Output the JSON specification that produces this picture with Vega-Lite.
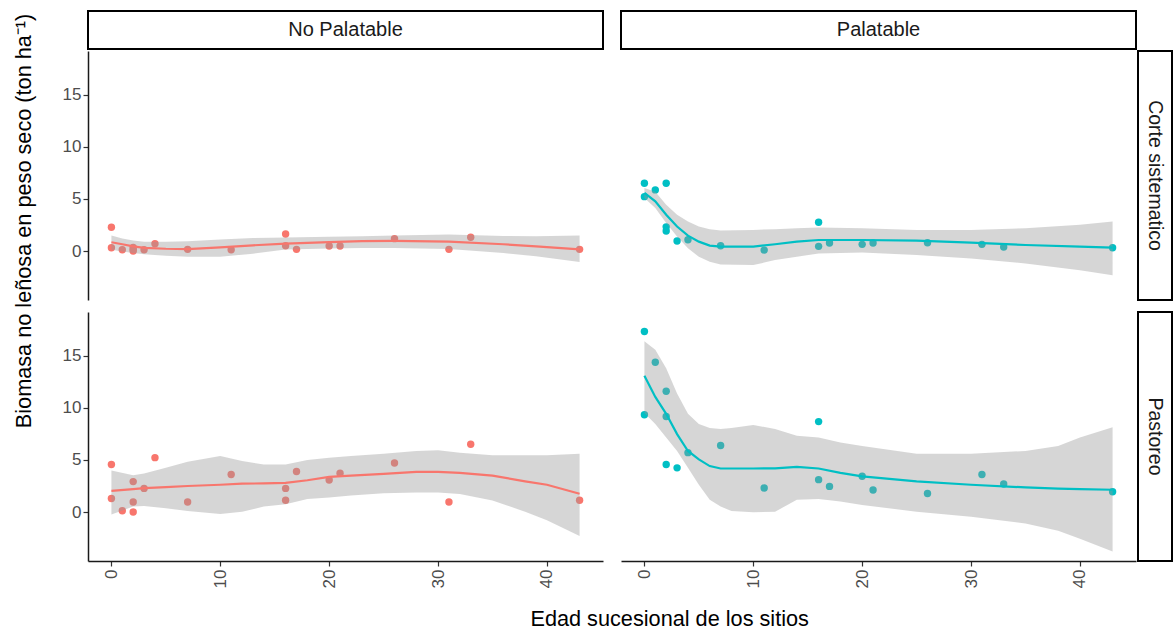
{
  "$schema": "https://vega.github.io/schema/vega-lite/v6.json",
  "background": "white",
  "padding": {"left": 14, "top": 10, "right": 0, "bottom": 0},
  "config": {
    "view": {"stroke": null},
    "font": "Liberation Sans",
    "axis": {"labelFont": "Liberation Sans", "labelFontSize": 17, "labelColor": "#4D4D4D", "tickColor": "#333333", "tickWidth": 1.2, "domainColor": "#1A1A1A", "domainWidth": 1.5, "grid": false},
    "text": {"font": "Liberation Sans"}
  },
  "datasets": {
    "pts": [
      {"tipo": "No Palatable", "manejo": "Corte sistematico", "edad": 0, "biomasa": 2.28},
      {"tipo": "No Palatable", "manejo": "Corte sistematico", "edad": 0, "biomasa": 0.32},
      {"tipo": "No Palatable", "manejo": "Corte sistematico", "edad": 1, "biomasa": 0.12},
      {"tipo": "No Palatable", "manejo": "Corte sistematico", "edad": 2, "biomasa": 0.0},
      {"tipo": "No Palatable", "manejo": "Corte sistematico", "edad": 2, "biomasa": 0.15},
      {"tipo": "No Palatable", "manejo": "Corte sistematico", "edad": 2, "biomasa": 0.35},
      {"tipo": "No Palatable", "manejo": "Corte sistematico", "edad": 3, "biomasa": 0.12},
      {"tipo": "No Palatable", "manejo": "Corte sistematico", "edad": 4, "biomasa": 0.7},
      {"tipo": "No Palatable", "manejo": "Corte sistematico", "edad": 7, "biomasa": 0.16},
      {"tipo": "No Palatable", "manejo": "Corte sistematico", "edad": 11, "biomasa": 0.13},
      {"tipo": "No Palatable", "manejo": "Corte sistematico", "edad": 16, "biomasa": 1.64},
      {"tipo": "No Palatable", "manejo": "Corte sistematico", "edad": 16, "biomasa": 0.51},
      {"tipo": "No Palatable", "manejo": "Corte sistematico", "edad": 17, "biomasa": 0.16},
      {"tipo": "No Palatable", "manejo": "Corte sistematico", "edad": 20, "biomasa": 0.48},
      {"tipo": "No Palatable", "manejo": "Corte sistematico", "edad": 21, "biomasa": 0.48},
      {"tipo": "No Palatable", "manejo": "Corte sistematico", "edad": 26, "biomasa": 1.19},
      {"tipo": "No Palatable", "manejo": "Corte sistematico", "edad": 31, "biomasa": 0.16},
      {"tipo": "No Palatable", "manejo": "Corte sistematico", "edad": 33, "biomasa": 1.32},
      {"tipo": "No Palatable", "manejo": "Corte sistematico", "edad": 43, "biomasa": 0.16},
      {"tipo": "No Palatable", "manejo": "Pastoreo", "edad": 0, "biomasa": 4.57},
      {"tipo": "No Palatable", "manejo": "Pastoreo", "edad": 0, "biomasa": 1.3},
      {"tipo": "No Palatable", "manejo": "Pastoreo", "edad": 1, "biomasa": 0.13},
      {"tipo": "No Palatable", "manejo": "Pastoreo", "edad": 2, "biomasa": 2.92},
      {"tipo": "No Palatable", "manejo": "Pastoreo", "edad": 2, "biomasa": 0.97},
      {"tipo": "No Palatable", "manejo": "Pastoreo", "edad": 2, "biomasa": 0.0},
      {"tipo": "No Palatable", "manejo": "Pastoreo", "edad": 3, "biomasa": 2.27},
      {"tipo": "No Palatable", "manejo": "Pastoreo", "edad": 4, "biomasa": 5.22},
      {"tipo": "No Palatable", "manejo": "Pastoreo", "edad": 7, "biomasa": 0.97},
      {"tipo": "No Palatable", "manejo": "Pastoreo", "edad": 11, "biomasa": 3.6},
      {"tipo": "No Palatable", "manejo": "Pastoreo", "edad": 16, "biomasa": 2.27},
      {"tipo": "No Palatable", "manejo": "Pastoreo", "edad": 16, "biomasa": 1.13},
      {"tipo": "No Palatable", "manejo": "Pastoreo", "edad": 17, "biomasa": 3.89},
      {"tipo": "No Palatable", "manejo": "Pastoreo", "edad": 20, "biomasa": 3.08},
      {"tipo": "No Palatable", "manejo": "Pastoreo", "edad": 21, "biomasa": 3.72},
      {"tipo": "No Palatable", "manejo": "Pastoreo", "edad": 26, "biomasa": 4.7},
      {"tipo": "No Palatable", "manejo": "Pastoreo", "edad": 31, "biomasa": 0.97},
      {"tipo": "No Palatable", "manejo": "Pastoreo", "edad": 33, "biomasa": 6.51},
      {"tipo": "No Palatable", "manejo": "Pastoreo", "edad": 43, "biomasa": 1.13},
      {"tipo": "Palatable", "manejo": "Corte sistematico", "edad": 0, "biomasa": 6.51},
      {"tipo": "Palatable", "manejo": "Corte sistematico", "edad": 0, "biomasa": 5.22},
      {"tipo": "Palatable", "manejo": "Corte sistematico", "edad": 1, "biomasa": 5.87},
      {"tipo": "Palatable", "manejo": "Corte sistematico", "edad": 2, "biomasa": 6.51},
      {"tipo": "Palatable", "manejo": "Corte sistematico", "edad": 2, "biomasa": 2.32},
      {"tipo": "Palatable", "manejo": "Corte sistematico", "edad": 2, "biomasa": 1.93},
      {"tipo": "Palatable", "manejo": "Corte sistematico", "edad": 3, "biomasa": 0.97},
      {"tipo": "Palatable", "manejo": "Corte sistematico", "edad": 4, "biomasa": 1.09},
      {"tipo": "Palatable", "manejo": "Corte sistematico", "edad": 7, "biomasa": 0.51},
      {"tipo": "Palatable", "manejo": "Corte sistematico", "edad": 11, "biomasa": 0.09},
      {"tipo": "Palatable", "manejo": "Corte sistematico", "edad": 16, "biomasa": 2.77},
      {"tipo": "Palatable", "manejo": "Corte sistematico", "edad": 16, "biomasa": 0.45},
      {"tipo": "Palatable", "manejo": "Corte sistematico", "edad": 17, "biomasa": 0.77},
      {"tipo": "Palatable", "manejo": "Corte sistematico", "edad": 20, "biomasa": 0.64},
      {"tipo": "Palatable", "manejo": "Corte sistematico", "edad": 21, "biomasa": 0.77},
      {"tipo": "Palatable", "manejo": "Corte sistematico", "edad": 26, "biomasa": 0.8},
      {"tipo": "Palatable", "manejo": "Corte sistematico", "edad": 31, "biomasa": 0.64},
      {"tipo": "Palatable", "manejo": "Corte sistematico", "edad": 33, "biomasa": 0.38},
      {"tipo": "Palatable", "manejo": "Corte sistematico", "edad": 43, "biomasa": 0.32},
      {"tipo": "Palatable", "manejo": "Pastoreo", "edad": 0, "biomasa": 17.33},
      {"tipo": "Palatable", "manejo": "Pastoreo", "edad": 0, "biomasa": 9.33},
      {"tipo": "Palatable", "manejo": "Pastoreo", "edad": 1, "biomasa": 14.38},
      {"tipo": "Palatable", "manejo": "Pastoreo", "edad": 2, "biomasa": 11.6},
      {"tipo": "Palatable", "manejo": "Pastoreo", "edad": 2, "biomasa": 9.17},
      {"tipo": "Palatable", "manejo": "Pastoreo", "edad": 2, "biomasa": 4.57},
      {"tipo": "Palatable", "manejo": "Pastoreo", "edad": 3, "biomasa": 4.24},
      {"tipo": "Palatable", "manejo": "Pastoreo", "edad": 4, "biomasa": 5.7},
      {"tipo": "Palatable", "manejo": "Pastoreo", "edad": 7, "biomasa": 6.38},
      {"tipo": "Palatable", "manejo": "Pastoreo", "edad": 11, "biomasa": 2.3},
      {"tipo": "Palatable", "manejo": "Pastoreo", "edad": 16, "biomasa": 8.68},
      {"tipo": "Palatable", "manejo": "Pastoreo", "edad": 16, "biomasa": 3.11},
      {"tipo": "Palatable", "manejo": "Pastoreo", "edad": 17, "biomasa": 2.46},
      {"tipo": "Palatable", "manejo": "Pastoreo", "edad": 20, "biomasa": 3.43},
      {"tipo": "Palatable", "manejo": "Pastoreo", "edad": 21, "biomasa": 2.11},
      {"tipo": "Palatable", "manejo": "Pastoreo", "edad": 26, "biomasa": 1.78},
      {"tipo": "Palatable", "manejo": "Pastoreo", "edad": 31, "biomasa": 3.6},
      {"tipo": "Palatable", "manejo": "Pastoreo", "edad": 33, "biomasa": 2.69},
      {"tipo": "Palatable", "manejo": "Pastoreo", "edad": 43, "biomasa": 1.94}
    ],
    "fit": [
      {"tipo": "No Palatable", "manejo": "Corte sistematico", "edad": 0, "fit": 0.84, "lo": 0.12, "hi": 1.5},
      {"tipo": "No Palatable", "manejo": "Corte sistematico", "edad": 1, "fit": 0.65, "lo": -0.05, "hi": 1.2},
      {"tipo": "No Palatable", "manejo": "Corte sistematico", "edad": 2, "fit": 0.45, "lo": -0.2, "hi": 1.0},
      {"tipo": "No Palatable", "manejo": "Corte sistematico", "edad": 3, "fit": 0.3, "lo": -0.3, "hi": 0.9},
      {"tipo": "No Palatable", "manejo": "Corte sistematico", "edad": 5, "fit": 0.22, "lo": -0.45, "hi": 0.9},
      {"tipo": "No Palatable", "manejo": "Corte sistematico", "edad": 7, "fit": 0.19, "lo": -0.55, "hi": 0.95},
      {"tipo": "No Palatable", "manejo": "Corte sistematico", "edad": 10, "fit": 0.35, "lo": -0.55, "hi": 1.1},
      {"tipo": "No Palatable", "manejo": "Corte sistematico", "edad": 13, "fit": 0.55, "lo": -0.25, "hi": 1.25},
      {"tipo": "No Palatable", "manejo": "Corte sistematico", "edad": 16, "fit": 0.72, "lo": 0.15, "hi": 1.3},
      {"tipo": "No Palatable", "manejo": "Corte sistematico", "edad": 20, "fit": 0.85, "lo": 0.25, "hi": 1.38},
      {"tipo": "No Palatable", "manejo": "Corte sistematico", "edad": 23, "fit": 0.95, "lo": 0.28, "hi": 1.42},
      {"tipo": "No Palatable", "manejo": "Corte sistematico", "edad": 26, "fit": 0.97, "lo": 0.28, "hi": 1.5},
      {"tipo": "No Palatable", "manejo": "Corte sistematico", "edad": 31, "fit": 0.9, "lo": 0.2, "hi": 1.58},
      {"tipo": "No Palatable", "manejo": "Corte sistematico", "edad": 36, "fit": 0.65, "lo": -0.2, "hi": 1.45},
      {"tipo": "No Palatable", "manejo": "Corte sistematico", "edad": 39, "fit": 0.45, "lo": -0.5, "hi": 1.42},
      {"tipo": "No Palatable", "manejo": "Corte sistematico", "edad": 43, "fit": 0.16, "lo": -1.05, "hi": 1.48},
      {"tipo": "No Palatable", "manejo": "Pastoreo", "edad": 0, "fit": 2.04, "lo": -0.23, "hi": 3.98},
      {"tipo": "No Palatable", "manejo": "Pastoreo", "edad": 2, "fit": 2.2, "lo": 0.52, "hi": 3.53},
      {"tipo": "No Palatable", "manejo": "Pastoreo", "edad": 3, "fit": 2.3, "lo": 0.58, "hi": 3.69},
      {"tipo": "No Palatable", "manejo": "Pastoreo", "edad": 5, "fit": 2.4, "lo": 0.36, "hi": 4.24},
      {"tipo": "No Palatable", "manejo": "Pastoreo", "edad": 7, "fit": 2.5, "lo": 0.1, "hi": 4.83},
      {"tipo": "No Palatable", "manejo": "Pastoreo", "edad": 10, "fit": 2.62, "lo": -0.19, "hi": 5.38},
      {"tipo": "No Palatable", "manejo": "Pastoreo", "edad": 12, "fit": 2.72, "lo": 0.03, "hi": 4.89},
      {"tipo": "No Palatable", "manejo": "Pastoreo", "edad": 14, "fit": 2.75, "lo": 0.52, "hi": 4.57},
      {"tipo": "No Palatable", "manejo": "Pastoreo", "edad": 16, "fit": 2.79, "lo": 0.75, "hi": 4.57},
      {"tipo": "No Palatable", "manejo": "Pastoreo", "edad": 18, "fit": 3.05, "lo": 1.26, "hi": 4.99},
      {"tipo": "No Palatable", "manejo": "Pastoreo", "edad": 20, "fit": 3.37, "lo": 1.39, "hi": 5.22},
      {"tipo": "No Palatable", "manejo": "Pastoreo", "edad": 22, "fit": 3.5, "lo": 1.59, "hi": 5.38},
      {"tipo": "No Palatable", "manejo": "Pastoreo", "edad": 25, "fit": 3.66, "lo": 1.81, "hi": 5.6},
      {"tipo": "No Palatable", "manejo": "Pastoreo", "edad": 28, "fit": 3.85, "lo": 1.88, "hi": 5.86},
      {"tipo": "No Palatable", "manejo": "Pastoreo", "edad": 30, "fit": 3.85, "lo": 1.88, "hi": 5.93},
      {"tipo": "No Palatable", "manejo": "Pastoreo", "edad": 32, "fit": 3.76, "lo": 1.72, "hi": 5.7},
      {"tipo": "No Palatable", "manejo": "Pastoreo", "edad": 35, "fit": 3.5, "lo": 1.1, "hi": 5.44},
      {"tipo": "No Palatable", "manejo": "Pastoreo", "edad": 38, "fit": 2.95, "lo": 0.03, "hi": 5.44},
      {"tipo": "No Palatable", "manejo": "Pastoreo", "edad": 40, "fit": 2.62, "lo": -0.78, "hi": 5.44},
      {"tipo": "No Palatable", "manejo": "Pastoreo", "edad": 43, "fit": 1.75, "lo": -2.3, "hi": 5.6},
      {"tipo": "Palatable", "manejo": "Corte sistematico", "edad": 0, "fit": 5.58, "lo": 5.1, "hi": 6.06},
      {"tipo": "Palatable", "manejo": "Corte sistematico", "edad": 1, "fit": 4.77, "lo": 4.13, "hi": 5.68},
      {"tipo": "Palatable", "manejo": "Corte sistematico", "edad": 2, "fit": 3.48, "lo": 2.68, "hi": 4.45},
      {"tipo": "Palatable", "manejo": "Corte sistematico", "edad": 3, "fit": 2.35, "lo": 1.39, "hi": 3.48},
      {"tipo": "Palatable", "manejo": "Corte sistematico", "edad": 4, "fit": 1.48, "lo": 0.26, "hi": 2.84},
      {"tipo": "Palatable", "manejo": "Corte sistematico", "edad": 5, "fit": 0.9, "lo": -0.55, "hi": 2.35},
      {"tipo": "Palatable", "manejo": "Corte sistematico", "edad": 6, "fit": 0.52, "lo": -1.03, "hi": 2.1},
      {"tipo": "Palatable", "manejo": "Corte sistematico", "edad": 7, "fit": 0.42, "lo": -1.29, "hi": 1.97},
      {"tipo": "Palatable", "manejo": "Corte sistematico", "edad": 10, "fit": 0.42, "lo": -1.35, "hi": 2.03},
      {"tipo": "Palatable", "manejo": "Corte sistematico", "edad": 12, "fit": 0.65, "lo": -0.87, "hi": 2.1},
      {"tipo": "Palatable", "manejo": "Corte sistematico", "edad": 14, "fit": 0.9, "lo": -0.55, "hi": 2.19},
      {"tipo": "Palatable", "manejo": "Corte sistematico", "edad": 16, "fit": 1.06, "lo": -0.23, "hi": 2.26},
      {"tipo": "Palatable", "manejo": "Corte sistematico", "edad": 20, "fit": 1.06, "lo": -0.13, "hi": 2.19},
      {"tipo": "Palatable", "manejo": "Corte sistematico", "edad": 25, "fit": 1.0, "lo": -0.39, "hi": 2.03},
      {"tipo": "Palatable", "manejo": "Corte sistematico", "edad": 30, "fit": 0.81, "lo": -0.71, "hi": 2.03},
      {"tipo": "Palatable", "manejo": "Corte sistematico", "edad": 35, "fit": 0.58, "lo": -1.19, "hi": 2.19},
      {"tipo": "Palatable", "manejo": "Corte sistematico", "edad": 40, "fit": 0.42, "lo": -1.84, "hi": 2.52},
      {"tipo": "Palatable", "manejo": "Corte sistematico", "edad": 43, "fit": 0.32, "lo": -2.32, "hi": 2.84},
      {"tipo": "Palatable", "manejo": "Pastoreo", "edad": 0, "fit": 13.09, "lo": 9.5, "hi": 16.39},
      {"tipo": "Palatable", "manejo": "Pastoreo", "edad": 1, "fit": 11.05, "lo": 8.45, "hi": 15.58},
      {"tipo": "Palatable", "manejo": "Pastoreo", "edad": 2, "fit": 9.43, "lo": 7.16, "hi": 13.8},
      {"tipo": "Palatable", "manejo": "Pastoreo", "edad": 3, "fit": 7.48, "lo": 5.86, "hi": 11.37},
      {"tipo": "Palatable", "manejo": "Pastoreo", "edad": 4, "fit": 5.86, "lo": 4.24, "hi": 9.43},
      {"tipo": "Palatable", "manejo": "Pastoreo", "edad": 5, "fit": 5.05, "lo": 2.62, "hi": 8.45},
      {"tipo": "Palatable", "manejo": "Pastoreo", "edad": 6, "fit": 4.41, "lo": 1.17, "hi": 8.07},
      {"tipo": "Palatable", "manejo": "Pastoreo", "edad": 7, "fit": 4.18, "lo": 0.52, "hi": 7.97},
      {"tipo": "Palatable", "manejo": "Pastoreo", "edad": 8, "fit": 4.18, "lo": 0.1, "hi": 8.07},
      {"tipo": "Palatable", "manejo": "Pastoreo", "edad": 10, "fit": 4.18, "lo": -0.03, "hi": 8.36},
      {"tipo": "Palatable", "manejo": "Pastoreo", "edad": 12, "fit": 4.2, "lo": 0.03, "hi": 7.97},
      {"tipo": "Palatable", "manejo": "Pastoreo", "edad": 14, "fit": 4.34, "lo": 1.17, "hi": 7.32},
      {"tipo": "Palatable", "manejo": "Pastoreo", "edad": 16, "fit": 4.18, "lo": 1.26, "hi": 7.16},
      {"tipo": "Palatable", "manejo": "Pastoreo", "edad": 18, "fit": 3.76, "lo": 1.0, "hi": 6.67},
      {"tipo": "Palatable", "manejo": "Pastoreo", "edad": 20, "fit": 3.43, "lo": 0.68, "hi": 6.35},
      {"tipo": "Palatable", "manejo": "Pastoreo", "edad": 25, "fit": 2.95, "lo": 0.03, "hi": 5.6},
      {"tipo": "Palatable", "manejo": "Pastoreo", "edad": 30, "fit": 2.62, "lo": -0.45, "hi": 5.6},
      {"tipo": "Palatable", "manejo": "Pastoreo", "edad": 35, "fit": 2.36, "lo": -1.1, "hi": 5.86},
      {"tipo": "Palatable", "manejo": "Pastoreo", "edad": 38, "fit": 2.25, "lo": -1.8, "hi": 6.35},
      {"tipo": "Palatable", "manejo": "Pastoreo", "edad": 40, "fit": 2.2, "lo": -2.56, "hi": 7.16},
      {"tipo": "Palatable", "manejo": "Pastoreo", "edad": 43, "fit": 2.14, "lo": -3.79, "hi": 8.13}
    ]
  },
  "title": {"text": "Edad sucesional de los sitios", "orient": "bottom", "anchor": "middle", "font": "Liberation Sans", "fontSize": 21.7, "fontWeight": "normal", "color": "#000000", "offset": 21, "dx": 76},
  "vconcat": [
    {
      "title": {"text": "Biomasa no leñosa en peso seco (ton ha⁻¹)", "orient": "left", "anchor": "middle", "font": "Liberation Sans", "fontSize": 21.7, "fontWeight": "normal", "color": "#000000", "offset": 26, "dx": 78},
      "columns": 3,
      "align": "each",
      "spacing": {"row": 0, "column": 0},
      "concat": [
        {"width": 515, "height": 38, "data": {"values": [{"lab": "No Palatable"}]}, "mark": {"type": "text", "fontSize": 20, "color": "#1A1A1A"}, "encoding": {"text": {"field": "lab"}}, "view": {"stroke": "#000000", "strokeWidth": 2, "fill": "white"}},
        {"width": 515, "height": 38, "data": {"values": [{"lab": "Palatable"}]}, "mark": {"type": "text", "fontSize": 20, "color": "#1A1A1A"}, "encoding": {"text": {"field": "lab"}}, "view": {"stroke": "#000000", "strokeWidth": 2, "fill": "white"}},
        {"width": 34, "height": 38, "data": {"values": [{"lab": ""}]}, "mark": {"type": "text"}, "encoding": {"text": {"field": "lab"}}},
        {
          "width": 515, "height": 249,
          "encoding": {"x": {"field": "edad", "type": "quantitative", "scale": {"domain": [-2.15, 45.15], "nice": false, "zero": false}, "axis": {"labels": false, "ticks": false, "domain": false, "grid": false, "title": null, "minExtent": 11, "maxExtent": 11}}},
          "layer": [
            {"data": {"name": "pts"}, "transform": [{"filter": "datum.tipo === 'No Palatable' && datum.manejo === 'Corte sistematico'"}], "mark": {"type": "circle", "size": 55, "opacity": 1, "color": "#F8766D"}, "encoding": {"y": {"field": "biomasa", "type": "quantitative", "scale": {"domain": [-4.7, 19.2], "nice": false, "zero": false}, "axis": {"values": [0, 5, 10, 15], "tickSize": 5, "title": null}}}},
            {"data": {"name": "fit"}, "transform": [{"filter": "datum.tipo === 'No Palatable' && datum.manejo === 'Corte sistematico'"}], "mark": {"type": "area", "color": "#999999", "opacity": 0.4}, "encoding": {"y": {"field": "lo", "type": "quantitative", "scale": {"domain": [-4.7, 19.2], "nice": false, "zero": false}, "axis": {"values": [0, 5, 10, 15], "tickSize": 5, "title": null}}, "y2": {"field": "hi"}}},
            {"data": {"name": "fit"}, "transform": [{"filter": "datum.tipo === 'No Palatable' && datum.manejo === 'Corte sistematico'"}], "mark": {"type": "line", "color": "#F8766D", "strokeWidth": 2.2}, "encoding": {"y": {"field": "fit", "type": "quantitative", "scale": {"domain": [-4.7, 19.2], "nice": false, "zero": false}, "axis": {"values": [0, 5, 10, 15], "tickSize": 5, "title": null}}}}
          ]
        },
        {
          "width": 515, "height": 249,
          "encoding": {"x": {"field": "edad", "type": "quantitative", "scale": {"domain": [-2.15, 45.15], "nice": false, "zero": false}, "axis": {"labels": false, "ticks": false, "domain": false, "grid": false, "title": null, "minExtent": 11, "maxExtent": 11}}},
          "layer": [
            {"data": {"name": "pts"}, "transform": [{"filter": "datum.tipo === 'Palatable' && datum.manejo === 'Corte sistematico'"}], "mark": {"type": "circle", "size": 55, "opacity": 1, "color": "#00BFC4"}, "encoding": {"y": {"field": "biomasa", "type": "quantitative", "scale": {"domain": [-4.7, 19.2], "nice": false, "zero": false}, "axis": {"labels": false, "ticks": false, "domain": false, "grid": false, "title": null, "minExtent": 17, "maxExtent": 17}}}},
            {"data": {"name": "fit"}, "transform": [{"filter": "datum.tipo === 'Palatable' && datum.manejo === 'Corte sistematico'"}], "mark": {"type": "area", "color": "#999999", "opacity": 0.4}, "encoding": {"y": {"field": "lo", "type": "quantitative", "scale": {"domain": [-4.7, 19.2], "nice": false, "zero": false}, "axis": {"labels": false, "ticks": false, "domain": false, "grid": false, "title": null, "minExtent": 17, "maxExtent": 17}}, "y2": {"field": "hi"}}},
            {"data": {"name": "fit"}, "transform": [{"filter": "datum.tipo === 'Palatable' && datum.manejo === 'Corte sistematico'"}], "mark": {"type": "line", "color": "#00BFC4", "strokeWidth": 2.2}, "encoding": {"y": {"field": "fit", "type": "quantitative", "scale": {"domain": [-4.7, 19.2], "nice": false, "zero": false}, "axis": {"labels": false, "ticks": false, "domain": false, "grid": false, "title": null, "minExtent": 17, "maxExtent": 17}}}}
          ]
        },
        {"width": 34, "height": 249, "data": {"values": [{"lab": "Corte sistematico"}]}, "mark": {"type": "text", "fontSize": 19.5, "angle": 90, "color": "#1A1A1A"}, "encoding": {"text": {"field": "lab"}}, "view": {"stroke": "#000000", "strokeWidth": 2, "fill": "white"}},
        {
          "width": 515, "height": 249,
          "encoding": {"x": {"field": "edad", "type": "quantitative", "scale": {"domain": [-2.15, 45.15], "nice": false, "zero": false}, "axis": {"values": [0, 10, 20, 30, 40], "labelAngle": 270, "labelAlign": "right", "labelBaseline": "middle", "tickSize": 5, "labelPadding": 3, "title": null}}},
          "layer": [
            {"data": {"name": "pts"}, "transform": [{"filter": "datum.tipo === 'No Palatable' && datum.manejo === 'Pastoreo'"}], "mark": {"type": "circle", "size": 55, "opacity": 1, "color": "#F8766D"}, "encoding": {"y": {"field": "biomasa", "type": "quantitative", "scale": {"domain": [-4.7, 19.2], "nice": false, "zero": false}, "axis": {"values": [0, 5, 10, 15], "tickSize": 5, "title": null}}}},
            {"data": {"name": "fit"}, "transform": [{"filter": "datum.tipo === 'No Palatable' && datum.manejo === 'Pastoreo'"}], "mark": {"type": "area", "color": "#999999", "opacity": 0.4}, "encoding": {"y": {"field": "lo", "type": "quantitative", "scale": {"domain": [-4.7, 19.2], "nice": false, "zero": false}, "axis": {"values": [0, 5, 10, 15], "tickSize": 5, "title": null}}, "y2": {"field": "hi"}}},
            {"data": {"name": "fit"}, "transform": [{"filter": "datum.tipo === 'No Palatable' && datum.manejo === 'Pastoreo'"}], "mark": {"type": "line", "color": "#F8766D", "strokeWidth": 2.2}, "encoding": {"y": {"field": "fit", "type": "quantitative", "scale": {"domain": [-4.7, 19.2], "nice": false, "zero": false}, "axis": {"values": [0, 5, 10, 15], "tickSize": 5, "title": null}}}}
          ]
        },
        {
          "width": 515, "height": 249,
          "encoding": {"x": {"field": "edad", "type": "quantitative", "scale": {"domain": [-2.15, 45.15], "nice": false, "zero": false}, "axis": {"values": [0, 10, 20, 30, 40], "labelAngle": 270, "labelAlign": "right", "labelBaseline": "middle", "tickSize": 5, "labelPadding": 3, "title": null}}},
          "layer": [
            {"data": {"name": "pts"}, "transform": [{"filter": "datum.tipo === 'Palatable' && datum.manejo === 'Pastoreo'"}], "mark": {"type": "circle", "size": 55, "opacity": 1, "color": "#00BFC4"}, "encoding": {"y": {"field": "biomasa", "type": "quantitative", "scale": {"domain": [-4.7, 19.2], "nice": false, "zero": false}, "axis": {"labels": false, "ticks": false, "domain": false, "grid": false, "title": null, "minExtent": 17, "maxExtent": 17}}}},
            {"data": {"name": "fit"}, "transform": [{"filter": "datum.tipo === 'Palatable' && datum.manejo === 'Pastoreo'"}], "mark": {"type": "area", "color": "#999999", "opacity": 0.4}, "encoding": {"y": {"field": "lo", "type": "quantitative", "scale": {"domain": [-4.7, 19.2], "nice": false, "zero": false}, "axis": {"labels": false, "ticks": false, "domain": false, "grid": false, "title": null, "minExtent": 17, "maxExtent": 17}}, "y2": {"field": "hi"}}},
            {"data": {"name": "fit"}, "transform": [{"filter": "datum.tipo === 'Palatable' && datum.manejo === 'Pastoreo'"}], "mark": {"type": "line", "color": "#00BFC4", "strokeWidth": 2.2}, "encoding": {"y": {"field": "fit", "type": "quantitative", "scale": {"domain": [-4.7, 19.2], "nice": false, "zero": false}, "axis": {"labels": false, "ticks": false, "domain": false, "grid": false, "title": null, "minExtent": 17, "maxExtent": 17}}}}
          ]
        },
        {"width": 34, "height": 249, "data": {"values": [{"lab": "Pastoreo"}]}, "mark": {"type": "text", "fontSize": 19.5, "angle": 90, "color": "#1A1A1A"}, "encoding": {"text": {"field": "lab"}}, "view": {"stroke": "#000000", "strokeWidth": 2, "fill": "white"}}
      ]
    }
  ]
}
